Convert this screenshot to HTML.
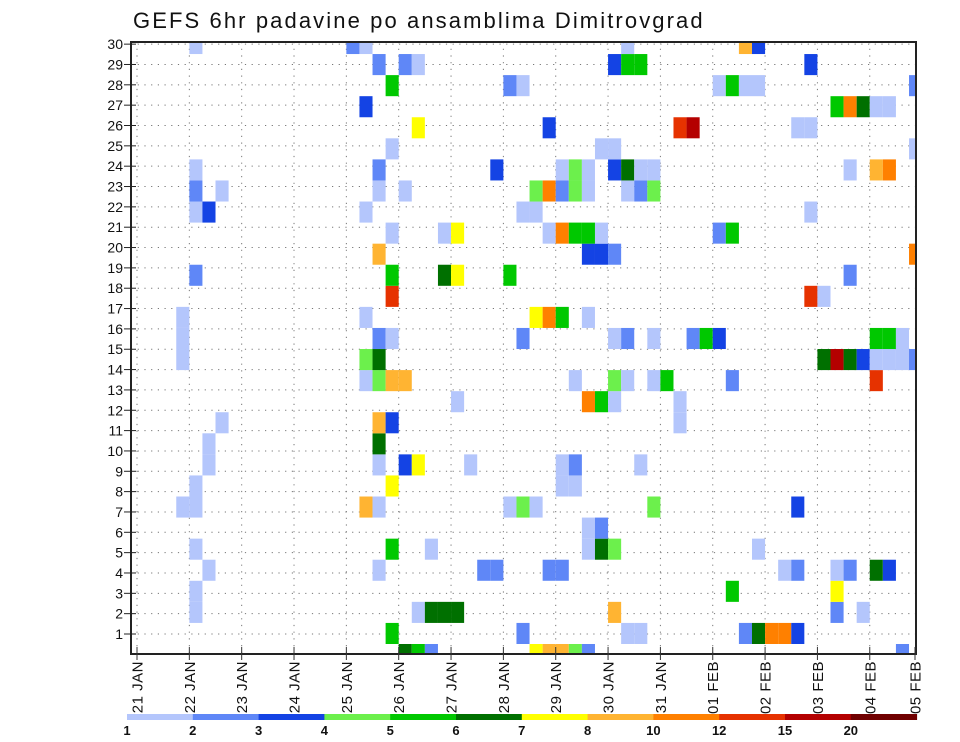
<!DOCTYPE html>
<html><head><meta charset="utf-8"><style>
html,body{margin:0;padding:0;background:#fff;}
svg{display:block;font-family:"Liberation Sans",sans-serif;}
</style></head><body>
<svg id="chart" width="960" height="742" viewBox="0 0 960 742" xmlns="http://www.w3.org/2000/svg">
<text x="133" y="28" font-size="22" letter-spacing="2.1" fill="#111">GEFS 6hr padavine po ansamblima Dimitrovgrad</text>
<g id="grid"></g>
<g id="cells"></g>
<g id="axes"></g>
<g id="legend"></g>
</svg>
<script>
const dayLabels = ["21 JAN","22 JAN","23 JAN","24 JAN","25 JAN","26 JAN","27 JAN","28 JAN","29 JAN","30 JAN","31 JAN","01 FEB","02 FEB","03 FEB","04 FEB","05 FEB"];
const memberLabels = [1,2,3,4,5,6,7,8,9,10,11,12,13,14,15,16,17,18,19,20,21,22,23,24,25,26,27,28,29,30];
const binLabels = ["1","2","3","4","5","6","7","8","10","12","15","20"];
const binColors = ["#b4c6fc","#5f87f7","#1443e4","#6cf04c","#00c800","#007000","#ffff00","#ffb432","#ff8000","#e63200","#b40000","#700000"];
// per ensemble slot (0 = bottom), 6-hour step indices and precipitation bins
const memberSteps = [
 [20,21,22,30,31,32,33,34,58],
 [19,29,37,38,46,47,48,49,50],
 [4,21,22,23,24,36,53,55],
 [4,45,53],
 [5,18,26,27,31,32,49,50,53,54,56,57],
 [4,19,22,34,35,36,47],
 [34,35],
 [3,4,17,18,28,29,30,39,50],
 [4,19,32,33],
 [5,18,20,21,25,32,33,38],
 [5,18],
 [6,18,19,41],
 [24,34,35,36,41],
 [17,18,19,20,33,36,37,39,40,45,56],
 [3,17,18,52,53,54,55,56,57,58,59],
 [3,18,19,29,36,37,39,42,43,44,56,57,58],
 [3,17,30,31,32,34],
 [19,51,52],
 [4,19,23,24,28,54],
 [18,34,35,36,59],
 [19,23,24,31,32,33,34,35,44,45],
 [4,5,17,29,30,51],
 [4,6,18,20,30,31,32,33,34,37,38,39],
 [4,18,27,32,33,34,36,37,38,39,54,56,57],
 [19,35,36,59],
 [21,31,41,42,50,51],
 [17,53,54,55,56,57],
 [19,28,29,44,45,46,47,59],
 [18,20,21,36,37,38,51],
 [4,16,17,37,46,47]
];
const memberBins = [
 [5,4,1,6,7,7,3,1,1],
 [4,1,0,0,1,5,8,8,2],
 [0,0,5,5,5,7,1,0],
 [0,4,6],
 [0,0,1,1,1,1,0,1,0,1,5,2],
 [0,4,0,0,5,3,0],
 [0,1],
 [0,0,7,0,0,3,0,3,2],
 [0,6,0,0],
 [0,0,2,6,0,0,1,0],
 [0,5],
 [0,7,2,0],
 [0,8,4,0,0],
 [0,3,7,7,0,3,0,0,4,1,9],
 [0,3,5,5,10,5,2,0,0,0,1],
 [0,1,0,1,0,1,0,1,4,2,4,4,0],
 [0,0,6,8,4,0],
 [9,9,0],
 [1,4,5,6,4,1],
 [7,2,2,1,8],
 [0,0,6,0,8,4,4,0,1,4],
 [0,2,0,0,0,0],
 [1,0,0,0,3,8,1,3,0,0,1,3],
 [0,1,2,0,3,0,2,5,0,0,0,7,8],
 [0,0,0,0],
 [6,2,9,10,0,0],
 [2,4,8,5,0,0],
 [4,1,0,0,4,0,0,1],
 [1,1,0,2,4,4,2],
 [0,1,0,0,7,2]
];

const NS="http://www.w3.org/2000/svg";
const PL=131,PR=916,PT=42,PB=654;
const X0=137, STEP=13.085;
function xStep(t){return X0+t*STEP;}
function xDay(d){return X0+d*4*STEP;}
function slotTop(s){return 644-21.07*s;}
const SLOT_H=21.07;
function yMember(k){return 634-20.34*(k-1);}
function mk(tag,attrs,parent){const e=document.createElementNS(NS,tag);for(const k in attrs)e.setAttribute(k,attrs[k]);parent.appendChild(e);return e;}

const grid=document.getElementById('grid');
memberLabels.forEach(k=>{
  const l=mk('line',{x1:PL,x2:PR,y1:yMember(k),y2:yMember(k),stroke:'#777','stroke-width':1,'stroke-dasharray':'1.2,5.5'},grid);
  
  
});
dayLabels.forEach((d,i)=>{
  const x=Math.min(xDay(i),PR);
  const l=mk('line',{x1:x,x2:x,y1:PT,y2:PB,stroke:'#777','stroke-width':1,'stroke-dasharray':'1.2,5.5'},grid);
  
  
});

const cells=document.getElementById('cells');
memberSteps.forEach((steps,s)=>{
  steps.forEach((t,j)=>{
    let x1=xStep(t), x2=xStep(t+1);
    let y1=slotTop(s), y2=y1+SLOT_H;
    x1=Math.max(x1,PL); x2=Math.min(x2,PR);
    y1=Math.max(y1,PT); y2=Math.min(y2,PB);
    if(x2<=x1||y2<=y1) return;
    const r=mk('rect',{x:x1,y:y1,width:x2-x1,height:y2-y1,fill:binColors[memberBins[s][j]]},cells);
    
    
  });
});

const axes=document.getElementById('axes');
const frame=mk('rect',{x:PL,y:PT,width:PR-PL,height:PB-PT,fill:'none',stroke:'#222','stroke-width':2},axes);


memberLabels.forEach(k=>{
  const y=yMember(k);
  const tk=mk('line',{x1:124,x2:136,y1:y,y2:y,stroke:'#222','stroke-width':1},axes);
  
  
  const t=mk('text',{x:123,y:y+5,'text-anchor':'end','font-size':14,fill:'#111'},axes);
  t.textContent=k;
  
  
});
dayLabels.forEach((d,i)=>{
  const x=Math.min(xDay(i),PR-1);
  const tk=mk('line',{x1:x,x2:x,y1:647,y2:660,stroke:'#333','stroke-width':1},axes);
  
  
  const t=mk('text',{x:0,y:0,'text-anchor':'end','font-size':15,fill:'#111',transform:'translate('+(x+5.5)+',661) rotate(-90)','letter-spacing':'0.5'},axes);
  t.textContent=d;
  
  
});

const legend=document.getElementById('legend');
const LX=127, LW=65.8;
binColors.forEach((c,i)=>{
  const r=mk('rect',{x:LX+i*LW,y:714,width:LW+0.5,height:6,fill:c},legend);
  
  
});
binLabels.forEach((b,i)=>{
  const t=mk('text',{x:LX+i*LW,y:735,'text-anchor':'middle','font-size':13,'font-weight':'bold',fill:'#111'},legend);
  t.textContent=b;
  
  
});
</script>
</body></html>
